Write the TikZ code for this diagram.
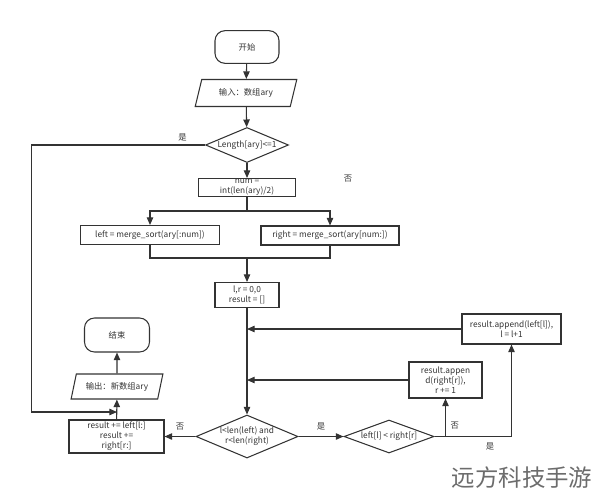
\documentclass[tikz,border=0pt]{standalone}
\usepackage{fontspec}
\setmainfont{Noto Sans CJK SC}
\usepackage{tikz}
\usetikzlibrary{
    arrows.meta,
    shapes.geometric,
    positioning
}
\definecolor{lineclr}{HTML}{333333}
\definecolor{txtclr}{HTML}{333333}
\tikzset{
    base/.style={draw=lineclr, line width=0.9pt, text=txtclr, inner sep=0pt, align=center,
        font=\fontsize{7.1}{8.6}\selectfont},
    term/.style={base, rectangle, rounded corners=0.3cm, minimum width=1.92cm, minimum height=0.98cm},
    proc/.style={base, rectangle},
    io/.style={base, trapezium, trapezium left angle=66, trapezium right angle=114,
        trapezium stretches=true},
    dec/.style={base, diamond},
    lbl/.style={text=txtclr, inner sep=0pt, align=center, font=\fontsize{7.1}{8.6}\selectfont},
    wire/.style={draw=lineclr, line width=0.9pt},
    flow/.style={wire, -{Triangle[length=6.5pt,width=5.5pt]}}
}

\begin{document}
\begin{tikzpicture}[x=0.03cm, y=-0.03cm]
    \useasboundingbox (0, 0) rectangle (600, 498);

    \node[term] (start) at (247, 47) {开始};
    \node[io, minimum width=3.06cm, minimum height=0.81cm] (in) at (246, 93) {输入：数组ary};
    \node[dec, minimum width=2.49cm, minimum height=1.05cm,
        label={[lbl]center:Length[ary]<=1}] (d1) at (247, 145) {};
    \node[proc, minimum width=2.91cm, minimum height=0.54cm] (num) at (247, 187.5) {num =\\int(len(ary)/2)};
    \node[proc, minimum width=4.17cm, minimum height=0.57cm] (left) at (150, 235) {left = merge\_sort(ary[:num])};
    \node[proc, minimum width=4.14cm, minimum height=0.57cm] (right) at (330, 235.5) {right = merge\_sort(ary[num:])};
    \node[proc, minimum width=1.92cm, minimum height=0.75cm] (init) at (247, 295) {l,r = 0,0\\result = []};
    \node[proc, minimum width=2.97cm, minimum height=0.9cm] (app1) at (511.5, 329) {result.append(left[l]),\\l = l+1};
    \node[proc, minimum width=2.19cm, minimum height=1.08cm] (app2) at (445.5, 380) {result.appen\\d(right[r]),\\r += 1};
    \node[dec, minimum width=3.06cm, minimum height=1.29cm,
        label={[lbl]center:l<len(left) and\\r<len(right)}] (d2) at (247, 436.5) {};
    \node[dec, minimum width=2.7cm, minimum height=0.99cm,
        label={[lbl]center:left[l] < right[r]}] (d3) at (389, 436.5) {};
    \node[proc, minimum width=2.85cm, minimum height=0.99cm] (res) at (116.5, 436.5) {result += left[l:]\\result +=\\right[r:]};
    \node[io, minimum width=2.76cm, minimum height=0.75cm] (out) at (117, 386.5) {输出：新数组ary};
    \node[term, minimum width=1.95cm, minimum height=1.02cm] (end) at (117, 335) {结束};

    \node[lbl] (no) at (348, 179) {否};
    \node[text=gray!85!black, inner sep=0pt, font=\fontsize{20}{20}\selectfont] (wm) at (522, 478) {远方科技手游};

    \coordinate (split) at (247, 211);
    \coordinate (join) at (247, 258);
    \coordinate (ret) at (117, 412);

    \draw[flow] (start) -- (in);
    \draw[flow] (in) -- (d1);
    \draw[flow] (d1) -- (num);
    \draw[wire] (num) -- (split);
    \draw[flow] (split) -| (left);
    \draw[flow] (split) -| (right);
    \draw[wire] (left) |- (join);
    \draw[wire] (right) |- (join);
    \draw[flow] (join) -- (init);
    \draw[flow] (init) -- (d2);
    \draw[flow] (app1) -- (app1 -| init);
    \draw[flow] (app2) -- (app2 -| init);
    \draw[flow] (d2) -- node[lbl, above=5pt] {是} (d3);
    \draw[flow] (d2) -- node[lbl, above=5pt] {否} (res);
    \draw[flow] (d3) -| node[lbl, below=5pt, pos=0.36] {是} (app1);
    \draw[flow] (d3.east -| app2) -- node[lbl, right=4pt, pos=0.3] {否} (app2);
    \draw[flow] (res) -- (out);
    \draw[flow] (out) -- (end);
    \draw[flow] (d1.west) -- node[lbl, above=3pt, pos=0.13] {是} ++(-173, 0) |- (ret);
\end{tikzpicture}
\end{document}
